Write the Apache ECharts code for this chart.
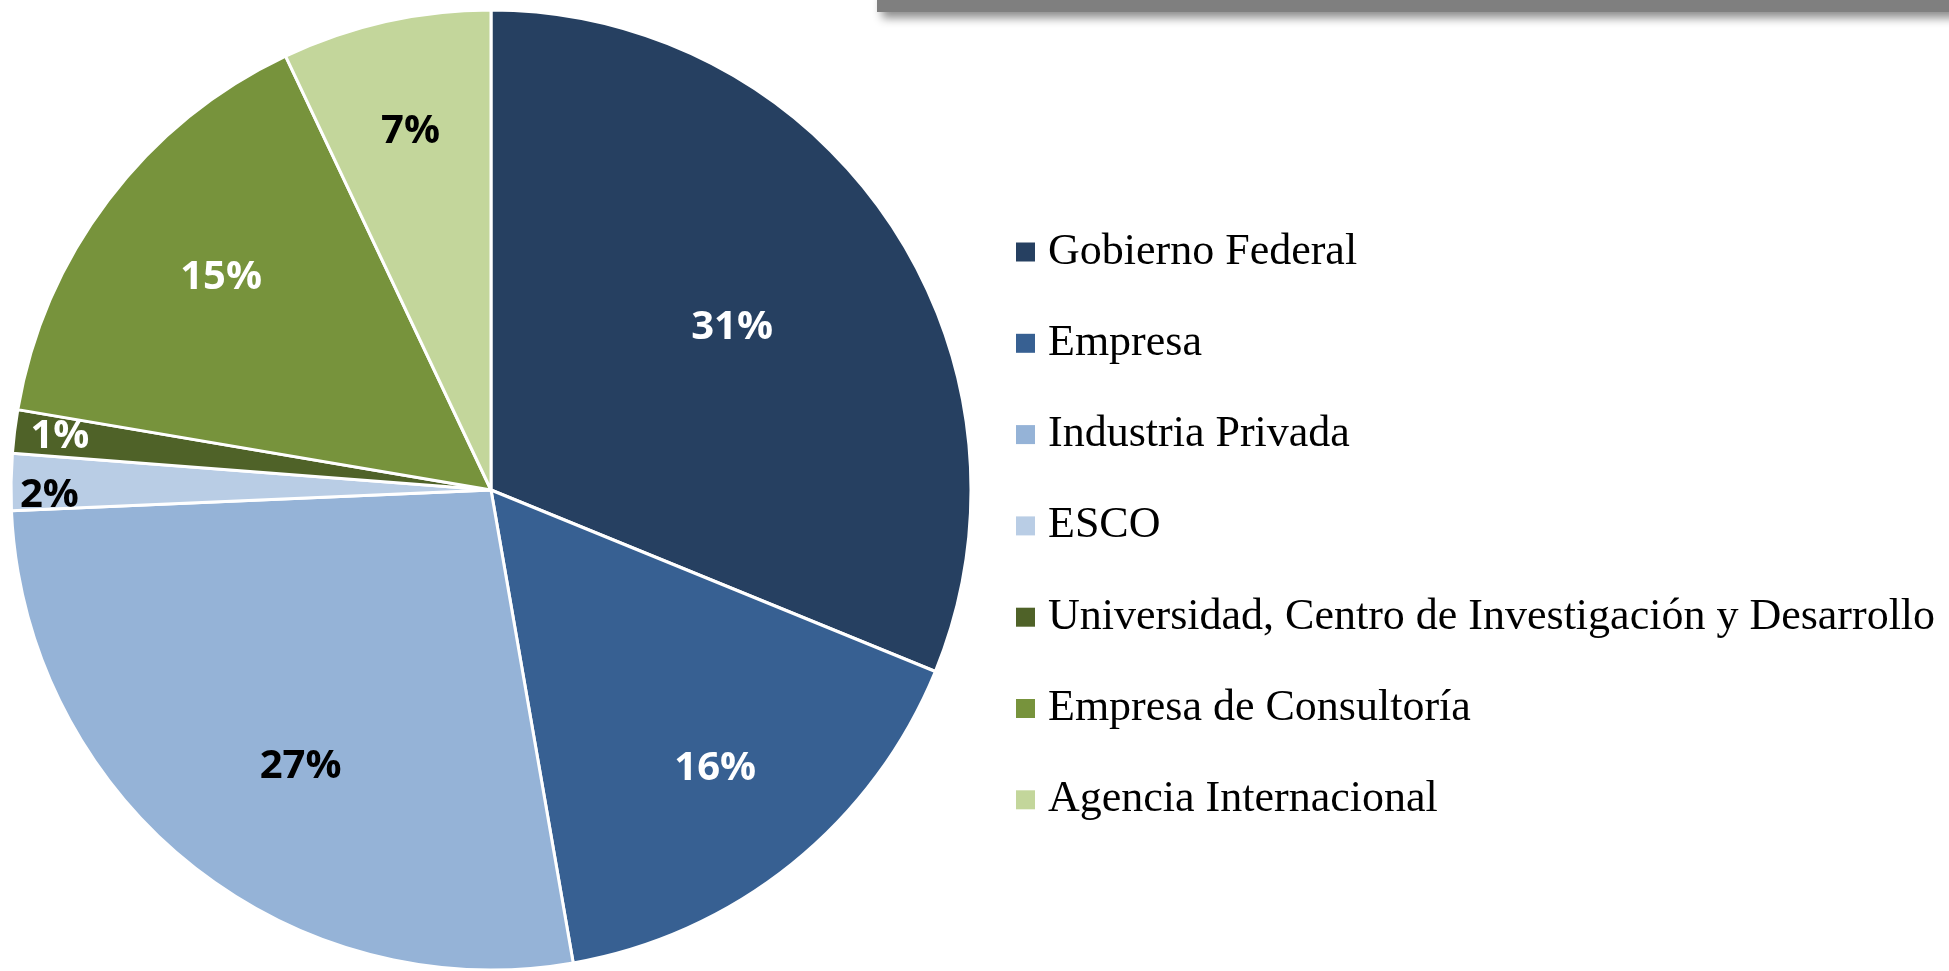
<!DOCTYPE html>
<html>
<head>
<meta charset="utf-8">
<title>Pie</title>
<script src="https://cdn.jsdelivr.net/npm/echarts@6.0.0/dist/echarts.min.js"></script>
<style>
  html, body { margin: 0; padding: 0; background: #fff; }
  #pie { width: 1949px; height: 971px; }
</style>
</head>
<body>
<div id="pie"></div>
<script>
// data (percent of total)
const sectors = [
  "Gobierno Federal",
  "Empresa",
  "Industria Privada",
  "ESCO",
  "Universidad, Centro de Investigación y Desarrollo",
  "Empresa de Consultoría",
  "Agencia Internacional",
];
const shares = [31.0, 16.0, 26.9, 1.9, 1.45, 15.2, 7.0];

const colors = ["#264061", "#376092", "#95b3d7", "#b9cde5", "#4f6228", "#77933c", "#c3d69b"];
const labelColors = ["#fff", "#fff", "#000", "#000", "#fff", "#fff", "#000"];
// how far out (share of radius) and how much turned (deg) each label sits, like Excel's best fit
const labelDist = [0.605, 0.745, 0.70, 0.92, 0.905, 0.715, 0.765];
const labelTurn = [0, 0, -4.3, -1.7, 0, 1, 0];

const CX = 491, CY = 490, R = 480;
const total = shares.reduce((a, b) => a + b, 0);

const labelSpot = (i) => {
  let before = 0;
  for (let j = 0; j < i; j++) before += shares[j];
  const mid = ((before + shares[i] / 2) / total) * 360 + labelTurn[i];
  const rad = (mid * Math.PI) / 180;
  const r = R * labelDist[i];
  return { x: CX + r * Math.sin(rad), y: CY - r * Math.cos(rad) };
};

var chartDom = document.getElementById("pie");
var myChart = echarts.init(chartDom);
var option;

option = {
  animation: false,
  color: colors,
  graphic: [
    {
      type: "rect",
      silent: true,
      shape: { x: 877, y: -8, width: 1120, height: 20 },
      style: {
        fill: "#7f7f7f",
        shadowBlur: 10,
        shadowOffsetX: 5,
        shadowOffsetY: 6,
        shadowColor: "rgba(0,0,0,0.45)",
      },
    },
  ],
  legend: {
    orient: "vertical",
    left: 1016,
    top: 229,
    padding: 0,
    icon: "rect",
    itemWidth: 19,
    itemHeight: 19,
    itemGap: 45.3,
    selectedMode: false,
    itemStyle: { borderWidth: 0 },
    data: sectors,
    textStyle: {
      fontFamily: "Liberation Serif",
      fontSize: 44,
      lineHeight: 46,
      color: "#000",
      padding: [0, 0, 0, 8],
    },
  },
  series: [
    {
      type: "pie",
      center: [CX, CY],
      radius: R,
      startAngle: 90,
      clockwise: true,
      avoidLabelOverlap: false,
      emphasis: { disabled: true },
      itemStyle: { borderColor: "#fff", borderWidth: 3 },
      label: {
        show: true,
        position: "inside",
        fontFamily: "Open Sans",
        fontWeight: "bold",
        fontSize: 40,
        formatter: (p) => Math.round(p.value) + "%",
      },
      labelLine: { show: false },
      labelLayout: (p) => {
        const s = labelSpot(p.dataIndex);
        return { x: s.x, y: s.y, align: "center", verticalAlign: "middle" };
      },
      data: sectors.map((name, i) => ({
        name,
        value: shares[i],
        label: { color: labelColors[i] },
      })),
    },
  ],
};

option && myChart.setOption(option);
</script>
</body>
</html>
